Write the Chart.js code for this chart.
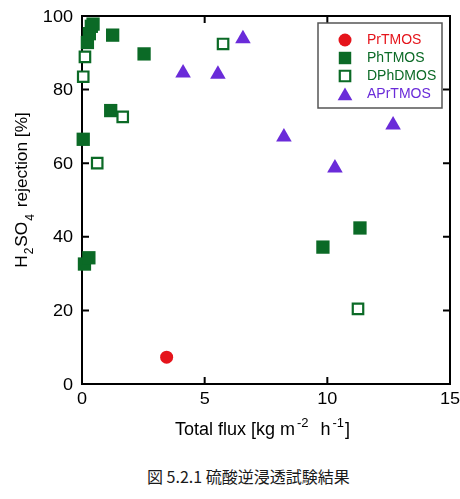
<!DOCTYPE html>
<html>
<head>
<meta charset="utf-8">
<script src="https://cdn.jsdelivr.net/npm/chart.js@4.4.0/dist/chart.umd.min.js"></script>
<style>
  body { margin: 0; background: #fff; width: 460px; height: 499px; overflow: hidden; position: relative; }
  #c { position: absolute; left: 0; top: 0; }
  #caption { position: absolute; left: 147px; top: 464px; font: 16px "Noto Sans CJK JP", sans-serif; color: #1a1a1a; white-space: nowrap; }
</style>
</head>
<body>
<canvas id="c" width="460" height="440"></canvas>
<div id="caption">図 5.2.1 硫酸逆浸透試験結果</div>
<script>
// Total flux [kg m-2 h-1] vs H2SO4 rejection [%]
const seriesNames = ['PrTMOS', 'PhTMOS', 'DPhDMOS', 'APrTMOS'];

const prFlux = [3.45];
const prRej = [7.3];

const phFlux = [0.05, 0.1, 0.28, 0.22, 0.3, 0.38, 0.45, 1.17, 1.25, 2.53, 9.82, 11.33];
const phRej = [66.5, 32.6, 34.3, 92.8, 95.2, 97.2, 97.8, 74.3, 94.8, 89.7, 37.2, 42.4];

const dphFlux = [0.05, 0.12, 0.62, 1.66, 5.75, 11.25];
const dphRej = [83.5, 88.9, 60.0, 72.6, 92.4, 20.4];

const aprFlux = [4.12, 5.54, 6.56, 8.23, 10.31, 12.68];
const aprRej = [84.5, 84.2, 93.8, 67.1, 58.7, 70.4];

const xTicks = [0, 5, 10, 15];
const yTicks = [0, 20, 40, 60, 80, 100];

const RED = '#e5141b';
const GREEN = '#0b6a26';
const PURPLE = '#6a2bd9';

function pts(xs, ys) { return xs.map((x, i) => ({ x: x, y: ys[i] })); }

const datasets = [
  { label: seriesNames[0], data: pts(prFlux, prRej), pointStyle: 'circle', pointRadius: 6.5,
    backgroundColor: RED, borderColor: RED, borderWidth: 0, order: 0 },
  { label: seriesNames[1], data: pts(phFlux, phRej), pointStyle: 'rect', pointRadius: 9.4,
    backgroundColor: GREEN, borderColor: GREEN, borderWidth: 0, order: 3 },
  { label: seriesNames[2], data: pts(dphFlux, dphRej), pointStyle: 'rect', pointRadius: 7.4,
    backgroundColor: '#fff', borderColor: GREEN, borderWidth: 2.2, order: 1 },
  { label: seriesNames[3], data: pts(aprFlux, aprRej), pointStyle: 'triangle', pointRadius: 9,
    backgroundColor: PURPLE, borderColor: PURPLE, borderWidth: 0, order: 2 }
];
datasets.forEach(d => { d.clip = false; d.pointHoverRadius = d.pointRadius; });

const FONT = 'Liberation Sans, Arial, sans-serif';

// frame, inward ticks and tick labels, drawn under the markers
const framePlugin = {
  id: 'frame',
  beforeDatasetsDraw(chart) {
    const { ctx, chartArea: a, scales: { x, y } } = chart;
    ctx.save();
    ctx.strokeStyle = '#000';
    ctx.lineWidth = 2;
    ctx.strokeRect(a.left, a.top, a.right - a.left, a.bottom - a.top);
    const tl = 7;
    ctx.beginPath();
    xTicks.forEach(v => {
      const px = x.getPixelForValue(v);
      ctx.moveTo(px, a.bottom); ctx.lineTo(px, a.bottom - tl);
      ctx.moveTo(px, a.top); ctx.lineTo(px, a.top + tl);
    });
    yTicks.forEach(v => {
      const py = y.getPixelForValue(v);
      ctx.moveTo(a.left, py); ctx.lineTo(a.left + tl, py);
      ctx.moveTo(a.right, py); ctx.lineTo(a.right - tl, py);
    });
    ctx.stroke();

    ctx.fillStyle = '#000';
    ctx.font = '16px ' + FONT;
    ctx.textBaseline = 'alphabetic';
    const sx = 1.13;
    xTicks.forEach(v => {
      const px = x.getPixelForValue(v);
      const w = ctx.measureText(String(v)).width * sx;
      ctx.save();
      ctx.translate(px - w / 2, a.bottom + 20);
      ctx.scale(sx, 1);
      ctx.fillText(String(v), 0, 0);
      ctx.restore();
    });
    yTicks.forEach(v => {
      const py = y.getPixelForValue(v);
      const w = ctx.measureText(String(v)).width * sx;
      ctx.save();
      ctx.translate(a.left - 9 - w, py + 5.5);
      ctx.scale(sx, 1);
      ctx.fillText(String(v), 0, 0);
      ctx.restore();
    });
    ctx.restore();
  }
};

function drawRuns(ctx, runs, x, y) {
  // runs: [text, size, dy, gapAfter]
  let cx = x;
  runs.forEach(r => {
    ctx.font = r[1] + 'px ' + FONT;
    ctx.fillText(r[0], cx, y + r[2]);
    cx += ctx.measureText(r[0]).width + (r[3] || 0);
  });
  return cx - x;
}
function runsWidth(ctx, runs) {
  let w = 0;
  runs.forEach(r => { ctx.font = r[1] + 'px ' + FONT; w += ctx.measureText(r[0]).width + (r[3] || 0); });
  return w;
}

const titlePlugin = {
  id: 'titles',
  afterDraw(chart) {
    const ctx = chart.ctx;
    ctx.save();
    ctx.fillStyle = '#000';
    ctx.textBaseline = 'alphabetic';
    ctx.textAlign = 'left';
    // x title
    const xr = [['Total flux [kg m', 18, 0, 2], ['-2', 13, -8, 12], ['h', 18, 0, 2], ['-1', 13, -8, 1], [']', 18, 0, 0]];
    const xw = runsWidth(ctx, xr);
    drawRuns(ctx, xr, 262.5 - xw / 2, 435);
    // y title, rotated
    const yr = [['H', 17.3, 0, 1], ['2', 12, 6, 1], ['SO', 17.3, 0, 1], ['4', 12, 7, 2], [' rejection [%]', 17.3, 0, 0]];
    const yw = runsWidth(ctx, yr);
    ctx.translate(27, 190);
    ctx.rotate(-Math.PI / 2);
    drawRuns(ctx, yr, -yw / 2, 0);
    ctx.restore();

    // legend
    ctx.save();
    const L = 318, T = 23, R = 442, B = 108;
    ctx.fillStyle = '#fff';
    ctx.fillRect(L, T, R - L, B - T);
    ctx.strokeStyle = '#555';
    ctx.lineWidth = 1.5;
    ctx.strokeRect(L, T, R - L, B - T);
    ctx.font = '14px ' + FONT;
    ctx.textBaseline = 'middle';
    chart.data.datasets.forEach((d, i) => {
      const cy = 40 + i * 18;
      ctx.fillStyle = d.backgroundColor;
      ctx.strokeStyle = d.borderColor;
      ctx.lineWidth = d.borderWidth;
      const r = d.pointStyle === 'triangle' ? 8.5 : (d.pointStyle === 'rect' ? (d.borderWidth ? 7.4 : 8.8) : 6.5);
      Chart.helpers.drawPoint(ctx, { pointStyle: d.pointStyle, radius: r, rotation: 0, borderWidth: d.borderWidth },
        345, d.pointStyle === 'triangle' ? cy + 2 : cy);
      ctx.fillStyle = d.borderColor;
      ctx.fillText(d.label, 367, cy);
    });
    ctx.restore();
  }
};

new Chart(document.getElementById('c'), {
  type: 'scatter',
  data: { datasets: datasets },
  options: {
    responsive: false,
    animation: false,
    events: [],
    layout: { padding: { left: 0, right: 10, top: 16, bottom: 0 } },
    plugins: { legend: { display: false }, tooltip: { enabled: false } },
    scales: {
      x: {
        type: 'linear', min: 0, max: 15,
        grid: { display: false }, border: { display: false },
        afterFit(s) { s.height = 56; },
        ticks: { display: false }
      },
      y: {
        type: 'linear', min: 0, max: 100,
        grid: { display: false }, border: { display: false },
        afterFit(s) { s.width = 82; },
        ticks: { display: false }
      }
    }
  },
  plugins: [framePlugin, titlePlugin]
});
</script>
</body>
</html>
